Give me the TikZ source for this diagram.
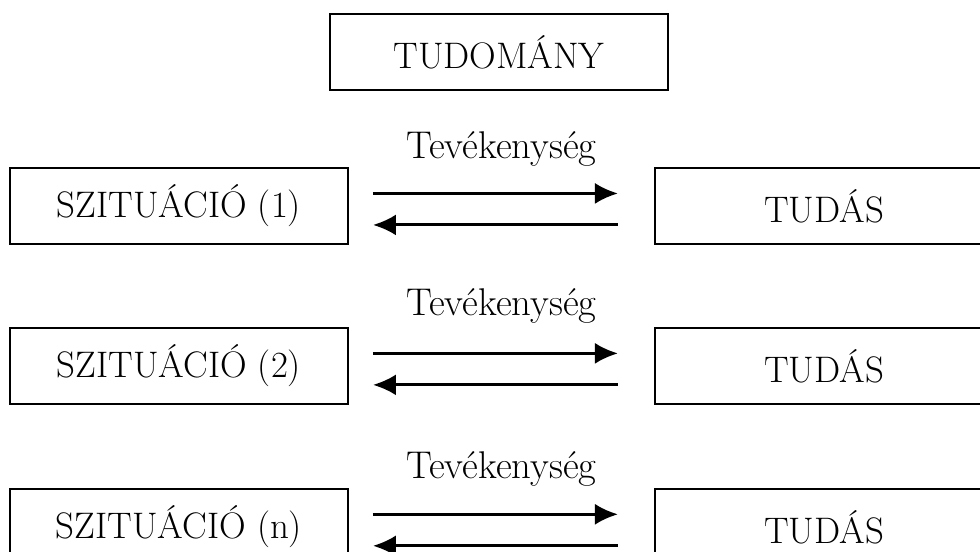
\documentclass[tikz,border=0pt]{standalone}
\usepackage{fontspec}
\usetikzlibrary{positioning,arrows.meta}

\begin{document}
\begin{tikzpicture}[
    node distance=1.64cm and 6.1cm,
    >={Latex[length=0.46cm,width=0.42cm]},
    box/.style={
        draw,
        line width=1.1pt,
        align=center,
        minimum width=6.76cm,
        minimum height=1.52cm,
        font=\fontsize{21}{25}\selectfont
    },
    act/.style={
        font=\fontsize{22}{26}\selectfont,
        inner sep=0pt
    },
    flow/.style={line width=1.7pt}
]
    \useasboundingbox (0,0) rectangle (19.6,-11.02);

    % Tudomány a tetején
    \node[box] (tudomany) at (9.98,-1.04) {TUDOMÁNY};

    % Szituációk bal oldalon
    \node[box, below=1.52cm of tudomany, xshift=-6.4cm] (sit1) {SZITUÁCIÓ (1)};
    \node[box, below=of sit1] (sit2) {SZITUÁCIÓ (2)};
    \node[box, below=1.66cm of sit2] (sitn) {SZITUÁCIÓ (n)};

    % Tudás jobb oldalon
    \node[box, right=of sit1] (tudas1) {TUDÁS};
    \node[box, right=of sit2] (tudas2) {TUDÁS};
    \node[box, right=of sitn] (tudasn) {TUDÁS};

    % Tevékenység: oda
    \draw[flow, ->, shorten <=0.48cm, shorten >=0.72cm]
        ([yshift=0.25cm]sit1.east) -- node[act, above=0.52cm]{Tevékenység} ([yshift=0.25cm]tudas1.west);
    \draw[flow, ->, shorten <=0.48cm, shorten >=0.72cm]
        ([yshift=0.25cm]sit2.east) -- node[act, above=0.56cm]{Tevékenység} ([yshift=0.25cm]tudas2.west);
    \draw[flow, ->, shorten <=0.48cm, shorten >=0.72cm]
        ([yshift=0.25cm]sitn.east) -- node[act, above=0.52cm]{Tevékenység} ([yshift=0.25cm]tudasn.west);

    % Visszafelé
    \draw[flow, ->, shorten <=0.72cm, shorten >=0.48cm]
        ([yshift=-0.38cm]tudas1.west) -- ([yshift=-0.38cm]sit1.east);
    \draw[flow, ->, shorten <=0.72cm, shorten >=0.48cm]
        ([yshift=-0.38cm]tudas2.west) -- ([yshift=-0.38cm]sit2.east);
    \draw[flow, ->, shorten <=0.72cm, shorten >=0.48cm]
        ([yshift=-0.38cm]tudasn.west) -- ([yshift=-0.38cm]sitn.east);
\end{tikzpicture}
\end{document}
